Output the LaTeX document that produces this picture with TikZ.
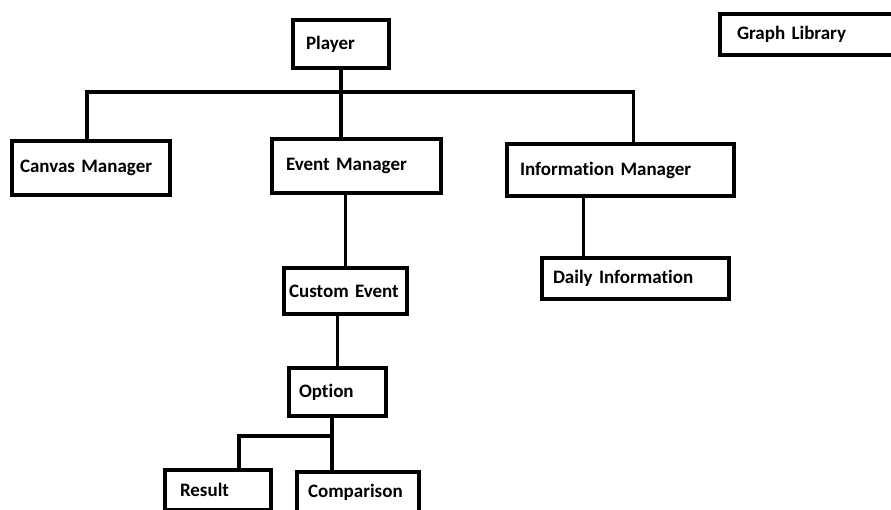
\documentclass[tikz,border=0pt]{standalone}
\usepackage{fontspec}
\setmainfont[Ligatures=NoCommon]{Carlito}

\tikzset{
  blk/.style={draw, line width=4pt, outer sep=0pt, anchor=north west,
    align=left, font=\fontsize{19}{22}\selectfont\bfseries},
  wire/.style={line width=3.5pt}
}

\begin{document}
\begin{tikzpicture}[x=1pt, y=-1pt]
    \clip (0,0) rectangle (891,509);
    \fill[white] (0,0) rectangle (891,509);

    % boxes
    \node[blk, inner xsep=13, text width=70, minimum height=48] (player) at (293,20) {Player};
    \node[blk, inner xsep=17, text width=166, minimum height=41] (graph) at (720,14) {Graph Library};
    \node[blk, inner xsep=8, text width=142, minimum height=54] (canvas) at (12,141) {Canvas Manager};
    \node[blk, inner xsep=14, text width=141, minimum height=54] (evmgr) at (272,139) {Event Manager};
    \node[blk, inner xsep=13, text width=201, minimum height=52] (info) at (507,144) {Information Manager};
    \node[blk, inner xsep=11, text width=165, minimum height=41] (daily) at (542,258) {Daily Information};
    \node[blk, inner xsep=5, text width=113, minimum height=46] (custom) at (284,268) {Custom Event};
    \node[blk, inner xsep=10, text width=77, minimum height=48] (option) at (289,368) {Option};
    \node[blk, inner xsep=15, text width=76, minimum height=40] (result) at (165,470) {Result};
    \node[blk, inner xsep=11, text width=100, minimum height=40] (comp) at (297,472) {Comparison};

    % connectors
    \coordinate (bus) at (341,92);
    \draw[wire] (player.south) -- (player.south |- evmgr.north);
    \draw[wire] ([xshift=-4]canvas.north) |- (bus) -| ([xshift=13]info.north);
    \draw[wire] (custom.north) -- (custom.north |- evmgr.south);
    \draw[wire] (option.north) -- (option.north |- custom.south);
    \coordinate (dtop) at ([xshift=-52]daily.north);
    \draw[wire] (dtop) -- (dtop |- info.south);
    \coordinate (split) at (332,436);
    \draw[wire] (split |- option.south) -- (split |- comp.north);
    \draw[wire] (split) -| ([xshift=21]result.north);
\end{tikzpicture}
\end{document}
